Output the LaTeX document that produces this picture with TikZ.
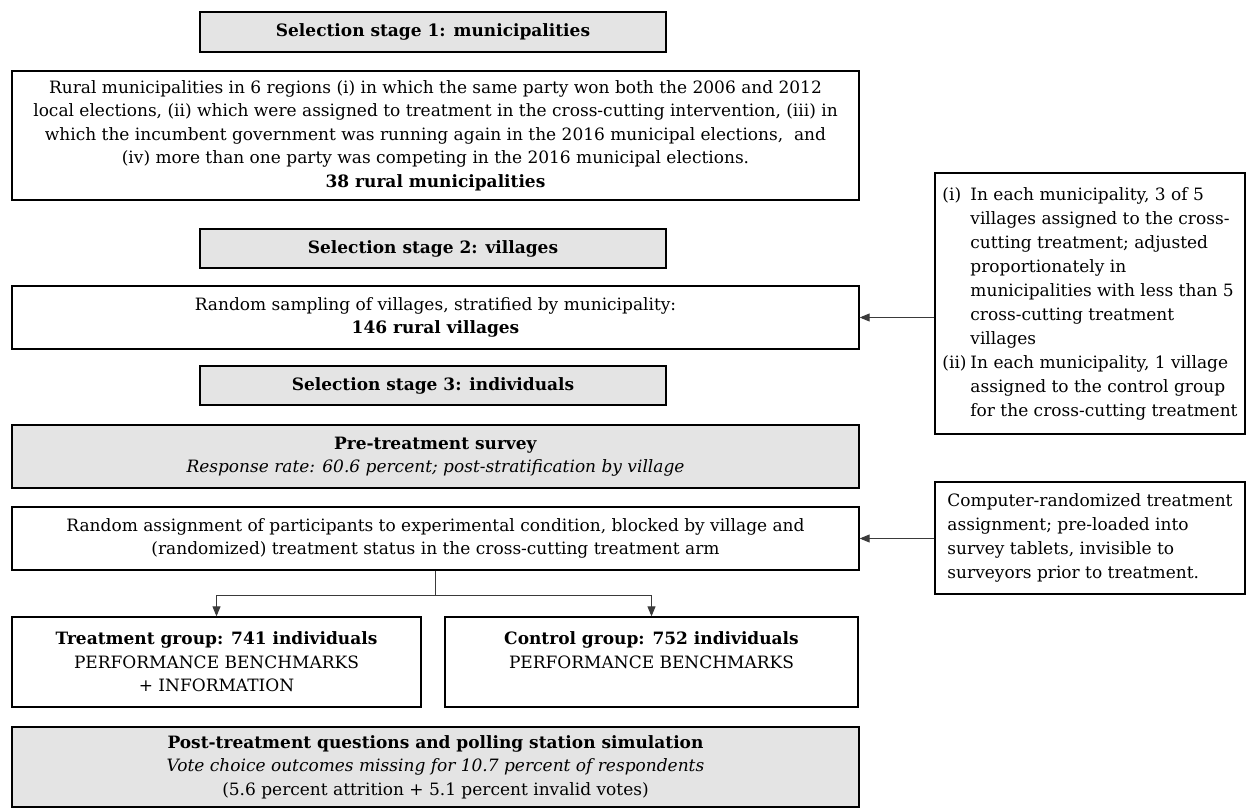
\documentclass[tikz,border=0pt]{standalone}
\usepackage{fontspec}
\setmainfont{DejaVu Serif}
\usetikzlibrary{arrows.meta}
\definecolor{boxgray}{HTML}{E4E4E4}
\definecolor{linegray}{HTML}{3A3A3A}
\newlength{\lblw}
\setlength{\lblw}{28pt}
\begin{document}
\begin{tikzpicture}[x=1pt,y=-1pt,
  box/.style={draw=black, line width=1.3pt, rectangle, inner sep=0pt, align=center,
    font={\fontsize{17}{23.5}\selectfont}},
  graybox/.style={box, fill=boxgray},
  sidebox/.style={box, align=left, font={\fontsize{17}{24}\selectfont}},
  conn/.style={draw=linegray, line width=0.9pt},
  arr/.style={conn, -{Triangle[length=10pt,width=8pt]}}]
\fill[white] (0,0) rectangle (1248,810);
\useasboundingbox (0,0) rectangle (1248,810);

\node[graybox, minimum width=466pt, minimum height=40pt] (s1) at (433,32)
  {\textbf{Selection stage 1: municipalities}};
\node[box, minimum width=847pt, minimum height=129pt] (b1) at (435.5,135.5)
  {Rural municipalities in 6 regions (i) in which the same party won both the 2006 and 2012\\
   local elections, (ii) which were assigned to treatment in the cross-cutting intervention, (iii) in\\
   which the incumbent government was running again in the 2016 municipal elections,\ \ and\\
   (iv) more than one party was competing in the 2016 municipal elections.\\
   \textbf{38 rural municipalities}};
\node[graybox, minimum width=466pt, minimum height=39pt] (s2) at (433,248.5)
  {\textbf{Selection stage 2: villages}};
\node[box, minimum width=847pt, minimum height=63pt] (b2) at (435.5,317.5)
  {Random sampling of villages, stratified by municipality:\\
   \textbf{146 rural villages}};
\node[graybox, minimum width=466pt, minimum height=39pt] (s3) at (433,385.5)
  {\textbf{Selection stage 3: individuals}};
\node[graybox, minimum width=847pt, minimum height=63pt] (pre) at (435.5,456.5)
  {\textbf{Pre-treatment survey}\\
   \textit{Response rate: 60.6 percent; post-stratification by village}};
\node[box, minimum width=847pt, minimum height=63pt] (rnd) at (435.5,538.5)
  {Random assignment of participants to experimental condition, blocked by village and\\
   (randomized) treatment status in the cross-cutting treatment arm};
\node[box, minimum width=409pt, minimum height=90pt] (trt) at (216.5,662)
  {\textbf{Treatment group: 741 individuals}\\
   PERFORMANCE BENCHMARKS\\
   + INFORMATION};
\node[box, minimum width=413pt, minimum height=90pt] (ctl) at (651.5,662)
  {\textbf{Control group: 752 individuals}\\
   PERFORMANCE BENCHMARKS\\
   \phantom{X}};
\node[graybox, minimum width=847pt, minimum height=80pt] (post) at (435.5,767)
  {\textbf{Post-treatment questions and polling station simulation}\\
   \textit{Vote choice outcomes missing for 10.7 percent of respondents}\\
   (5.6 percent attrition + 5.1 percent invalid votes)};

\node[sidebox, minimum width=310pt, minimum height=261pt] (r1) at (1090,303.5)
  {\makebox[\lblw][l]{(i)}In each municipality, 3 of 5\\
   \hspace*{\lblw}villages assigned to the cross-\\
   \hspace*{\lblw}cutting treatment; adjusted\\
   \hspace*{\lblw}proportionately in\\
   \hspace*{\lblw}municipalities with less than 5\\
   \hspace*{\lblw}cross-cutting treatment\\
   \hspace*{\lblw}villages\\
   \makebox[\lblw][l]{(ii)}In each municipality, 1 village\\
   \hspace*{\lblw}assigned to the control group\\
   \hspace*{\lblw}for the cross-cutting treatment};
\node[sidebox, minimum width=310pt, minimum height=112pt] (r2) at (1090,538)
  {Computer-randomized treatment\\
   assignment; pre-loaded into\\
   survey tablets, invisible to\\
   surveyors prior to treatment.};

\coordinate (split) at (435.5,595);
\draw[conn] (rnd.south) -- (split);
\draw[arr] (split) -| (trt.north);
\draw[arr] (split) -| (ctl.north);
\draw[arr] (r1.west |- b2.east) -- (b2.east);
\draw[arr] (r2.west |- rnd.east) -- (rnd.east);
\end{tikzpicture}
\end{document}
